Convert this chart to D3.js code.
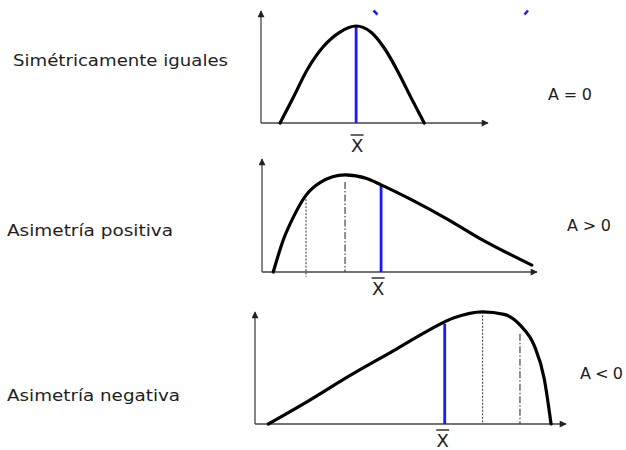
<!DOCTYPE html>
<html>
<head>
<meta charset="utf-8">
<script src="https://cdn.jsdelivr.net/npm/d3@7"></script>
<style>
  html, body { margin: 0; padding: 0; background: #fff; }
  svg { display: block; }
  text { font-family: "DejaVu Sans", sans-serif; fill: #1e1e1e; }
</style>
</head>
<body>
<div id="chart"></div>
<script>
// ---------------- DATA ----------------
const panelLabels = ["Simétricamente iguales", "Asimetría positiva", "Asimetría negativa"];
const asymLabels = ["A = 0", "A > 0", "A < 0"];
const meanLabel = "X";

// curve points [x, y] in each panel's own units (0..100)
const curveSymmetric = [[8.4,0],[14.1,22.7],[20.3,48.2],[27.3,69.1],[34.8,82.7],[41.9,88.2],[48.5,82.5],[54.5,67.5],[60.5,46],[66.2,22.6],[71.9,0]];
const curvePositive = [[4.1,0],[7.7,28.6],[11.4,49.4],[15.9,68.8],[21.1,80.6],[30.2,87.5],[38.1,84.2],[43.3,78.5],[55,64.3],[67.2,47.9],[79.3,30.1],[98.1,6.2]];
const curveNegative = [[4.3,0],[16.7,20.1],[30.6,44.1],[44.6,66.7],[55.4,84.5],[64,96.5],[73.1,102],[80.1,99.7],[85.5,89.2],[89.8,71.2],[93,41.2],[95.2,0]];

// mean (blue), dotted and dash-dot reference lines: x and top y per panel
const meanX = [41.9, 43.3, 61];
const meanTop = [88.2, 78, 91];
const dottedX = [null, 16, 73.2];
const dottedTop = [null, 68.8, 102];
const dottedBottom = [null, -4.5, 0];
const dashDotX = [null, 30.2, 85.2];
const dashDotTop = [null, 81, 82];

const curves = [curveSymmetric, curvePositive, curveNegative];

// ---------------- LAYOUT ----------------
const W = 626, H = 450;
const layout = [
  { ox: 261, oy: 123, xEnd: 488, yTop: 11, labX: 13, labY: 66, labW: 215, aX: 548, aY: 100, aW: 44, meanDx: 1, meanLabY: 152 },
  { ox: 262, oy: 272, xEnd: 537, yTop: 159, labX: 7, labY: 236, labW: 166, aX: 567, aY: 231, aW: 44, meanDx: -3, meanLabY: 295 },
  { ox: 255, oy: 424, xEnd: 566, yTop: 312, labX: 7, labY: 401, labW: 173, aX: 580, aY: 379, aW: 43, meanDx: -2, meanLabY: 447 }
];

const svg = d3.select("#chart").append("svg").attr("width", W).attr("height", H);

const defs = svg.append("defs");
defs.append("marker")
  .attr("id", "arrow")
  .attr("viewBox", "0 0 10 10")
  .attr("refX", 9).attr("refY", 5)
  .attr("markerUnits", "userSpaceOnUse")
  .attr("markerWidth", 8).attr("markerHeight", 7)
  .attr("orient", "auto")
  .append("path").attr("d", "M0,0 L10,5 L0,10 Z").attr("fill", "#222");

// small blue fragments at top (cut-off title)
svg.append("path").attr("d", "M373.5,10.5 L377.5,14.5").attr("stroke", "#1a1aff").attr("stroke-width", 2.5).attr("fill", "none");
svg.append("path").attr("d", "M528,10.5 L524.5,14.5").attr("stroke", "#1a1aff").attr("stroke-width", 2.5).attr("fill", "none");

layout.forEach((L, i) => {
  const x = d3.scaleLinear().domain([0, 100]).range([L.ox, L.xEnd]);
  const y = d3.scaleLinear().domain([0, 100]).range([L.oy, L.yTop + 2]);
  const g = svg.append("g");

  // axes with arrowheads
  g.append("line").attr("x1", x(0)).attr("y1", y(0)).attr("x2", x(100)).attr("y2", y(0))
    .attr("stroke", "#444").attr("stroke-width", 1.3).attr("marker-end", "url(#arrow)");
  g.append("line").attr("x1", x(0)).attr("y1", y(0)).attr("x2", x(0)).attr("y2", L.yTop)
    .attr("stroke", "#444").attr("stroke-width", 1.3).attr("marker-end", "url(#arrow)");

  // dotted line
  if (dottedX[i] !== null) {
    g.append("line").attr("x1", x(dottedX[i])).attr("x2", x(dottedX[i]))
      .attr("y1", y(dottedTop[i])).attr("y2", y(dottedBottom[i]))
      .attr("stroke", "#333").attr("stroke-width", 1).attr("stroke-dasharray", "2,1.5");
  }
  // dash-dot line
  if (dashDotX[i] !== null) {
    g.append("line").attr("x1", x(dashDotX[i])).attr("x2", x(dashDotX[i]))
      .attr("y1", y(dashDotTop[i])).attr("y2", y(0))
      .attr("stroke", "#444").attr("stroke-width", 1.2).attr("stroke-dasharray", "7,2,1.5,2");
  }

  // mean (blue)
  g.append("line").attr("x1", x(meanX[i])).attr("x2", x(meanX[i]))
    .attr("y1", y(meanTop[i])).attr("y2", y(0))
    .attr("stroke", "#1a1aff").attr("stroke-width", 2.8);

  // curve
  const line = d3.line().x(d => x(d[0])).y(d => y(d[1])).curve(d3.curveMonotoneX);
  g.append("path").datum(curves[i]).attr("d", line)
    .attr("fill", "none").attr("stroke", "#000").attr("stroke-width", 3.2)
    .attr("stroke-linecap", "round");

  // X-bar label
  const mx = x(meanX[i]) + L.meanDx;
  g.append("text").attr("x", mx).attr("y", L.meanLabY).attr("text-anchor", "middle")
    .attr("font-size", 18).text(meanLabel);
  g.append("line").attr("x1", mx - 6.5).attr("x2", mx + 6.5)
    .attr("y1", L.meanLabY - 17).attr("y2", L.meanLabY - 17)
    .attr("stroke", "#333").attr("stroke-width", 1.5);

  // panel label
  g.append("text").attr("x", L.labX).attr("y", L.labY).attr("font-size", 16)
    .attr("textLength", L.labW).attr("lengthAdjust", "spacingAndGlyphs")
    .text(panelLabels[i]);
  // asymmetry label
  g.append("text").attr("x", L.aX).attr("y", L.aY).attr("font-size", 16)
    .attr("textLength", L.aW).attr("lengthAdjust", "spacing")
    .text(asymLabels[i]);
});
</script>
</body>
</html>
